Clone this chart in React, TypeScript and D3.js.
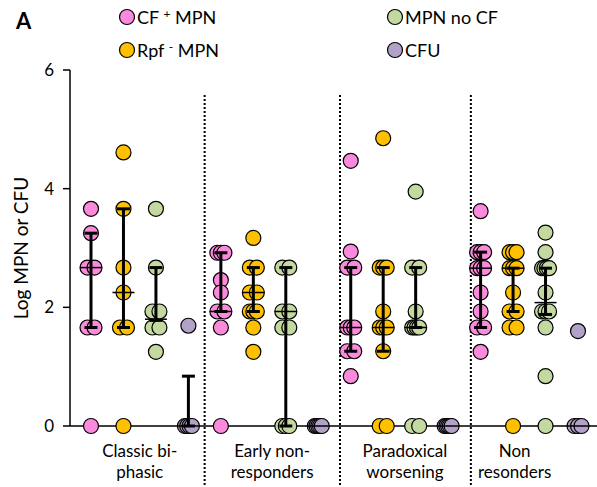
import React from "react"
import * as d3 from "d3"

// groups on the x axis
const groupLines = [
  ["Classic bi-", "phasic"],
  ["Early non-", "responders"],
  ["Paradoxical", "worsening"],
  ["Non", "resonders"],
]

// log values per group
const cfPlus = [
  [3.66, 3.25, 2.67, 2.67, 1.66, 1.66, 0],
  [2.92, 2.92, 2.92, 2.46, 2.25, 1.93, 1.93, 1.66, 0],
  [4.47, 2.94, 2.67, 2.67, 1.66, 1.66, 1.66, 1.26, 1.26, 0.84],
  [3.62, 2.93, 2.93, 2.93, 2.66, 2.66, 2.66, 2.25, 1.93, 1.66, 1.66, 1.25],
]
const rpfMinus = [
  [4.61, 3.66, 2.67, 2.25, 1.66, 1.66, 0],
  [3.17, 2.67, 2.67, 2.25, 2.25, 1.93, 1.93, 1.93, 1.66, 1.25],
  [4.85, 2.67, 2.67, 2.67, 1.93, 1.66, 1.66, 1.66, 1.26, 0, 0],
  [2.93, 2.93, 2.93, 2.66, 2.66, 2.66, 2.25, 1.93, 1.93, 1.66, 1.66, 0],
]
const mpnNoCf = [
  [3.66, 2.67, 1.93, 1.93, 1.66, 1.66, 1.25],
  [2.67, 2.67, 1.93, 1.93, 1.66, 1.66, 0, 0, 0],
  [3.95, 2.67, 2.67, 1.93, 1.66, 1.66, 1.66, 1.66, 0, 0],
  [3.26, 2.93, 2.66, 2.66, 2.66, 2.66, 2.25, 1.93, 1.93, 1.93, 1.66, 0.84, 0],
]
const cfu = [
  [1.69, 0, 0, 0, 0],
  [0, 0, 0, 0, 0],
  [0, 0, 0, 0, 0],
  [1.6, 0, 0, 0],
]

// median and interquartile range per series and group
const cfMedian = [2.67, 1.93, 1.66, 2.66]
const cfQ1 = [1.66, 1.93, 1.26, 1.66]
const cfQ3 = [3.25, 2.92, 2.67, 2.93]
const rpfMedian = [2.25, 2.25, 1.66, 2.66]
const rpfQ1 = [1.66, 1.93, 1.26, 1.93]
const rpfQ3 = [3.66, 2.67, 2.67, 2.66]
const noCfMedian = [1.8, 1.93, 1.66, 2.08]
const noCfQ1 = [1.78, 0, 1.66, 1.88]
const noCfQ3 = [2.67, 2.67, 2.67, 2.66]
const cfuMedian = [0, 0, 0, 0]
const cfuQ1 = [0, 0, 0, 0]
const cfuQ3 = [0.84, 0, 0, 0]

const yTicks = [0, 2, 4, 6]

const series = [
  { name: "CF", values: cfPlus, med: cfMedian, q1: cfQ1, q3: cfQ3, color: "#FB8ADC" },
  { name: "Rpf", values: rpfMinus, med: rpfMedian, q1: rpfQ1, q3: rpfQ3, color: "#FFC000" },
  { name: "NoCF", values: mpnNoCf, med: noCfMedian, q1: noCfQ1, q3: noCfQ3, color: "#C4D9A0" },
  { name: "CFU", values: cfu, med: cfuMedian, q1: cfuQ1, q3: cfuQ3, color: "#B2A2C8" },
]

// layout (in column units)
const dividerPos = [3.5, 7.67, 11.7]
const labelPos = [1.5, 5.58, 9.67, 13.05]

export default function App() {
  const width = 597
  const height = 487
  const font = "Lato, 'Liberation Sans', sans-serif"

  const x = d3.scaleLinear().domain([0, 15]).range([91, 578])
  const y = d3.scaleLinear().domain([0, 6]).range([426, 70])
  const r = 7.5

  const dots: { cx: number; cy: number; color: string; key: string }[] = []
  const bars: { cx: number; med: number; q1: number; q3: number; key: string }[] = []

  series.forEach((s, si) => {
    s.values.forEach((vals, gi) => {
      const col = gi * 4 + si
      const counts = d3.rollup(vals, (v) => v.length, (d) => d)
      const seen = new Map<number, number>()
      vals.forEach((v, i) => {
        const n = counts.get(v) || 1
        const k = seen.get(v) || 0
        seen.set(v, k + 1)
        const off = n > 1 ? -3.5 + (7 * k) / (n - 1) : 0
        dots.push({ cx: x(col) + off, cy: y(v), color: s.color, key: `${si}-${gi}-${i}` })
      })
      bars.push({ cx: x(col), med: s.med[gi], q1: s.q1[gi], q3: s.q3[gi], key: `${si}-${gi}` })
    })
  })

  const legend = [
    { color: series[0].color, x: 127, y: 17, main: "CF ", sup: "+", rest: " MPN" },
    { color: series[1].color, x: 127, y: 50, main: "Rpf ", sup: "-", rest: " MPN" },
    { color: series[2].color, x: 395, y: 17, main: "MPN no CF", sup: "", rest: "" },
    { color: series[3].color, x: 395, y: 50, main: "CFU", sup: "", rest: "" },
  ]

  return (
    <div style={{ position: "absolute", left: 0, top: 0, background: "#fff" }}>
      <svg width={width} height={height} style={{ display: "block", fontFamily: font }}>
        <rect width={width} height={height} fill="#fff" />
        <text x={16} y={29} fontSize={22} fontWeight="bold">A</text>

        {legend.map((l) => (
          <g key={l.main}>
            <circle cx={l.x} cy={l.y} r={r} fill={l.color} stroke="#000" strokeWidth={1.2} />
            <text x={l.x + 10} y={l.y + 6.5} fontSize={18}>
              {l.main}
              {l.sup && <tspan dy={-6} fontSize={12}>{l.sup}</tspan>}
              {l.rest && <tspan dy={6}>{l.rest}</tspan>}
            </text>
          </g>
        ))}

        {/* y axis */}
        <line x1={70} x2={70} y1={y(6)} y2={y(0)} stroke="#000" strokeWidth={1.5} />
        {yTicks.map((t) => (
          <g key={t}>
            <line x1={63} x2={70} y1={y(t)} y2={y(t)} stroke="#000" strokeWidth={1.5} />
            <text x={54} y={y(t) + 6} fontSize={17} textAnchor="end">{t}</text>
          </g>
        ))}
        <text
          transform={`translate(28,248) rotate(-90)`}
          textAnchor="middle"
          fontSize={19}
        >
          Log MPN or CFU
        </text>

        {/* x axis */}
        <line x1={70} x2={width} y1={y(0)} y2={y(0)} stroke="#000" strokeWidth={1.5} />

        {dividerPos.map((d) => (
          <line key={d} x1={x(d)} x2={x(d)} y1={95} y2={height} stroke="#000" strokeWidth={2} strokeDasharray="2,2" />
        ))}

        {dots.map((d) => (
          <circle key={d.key} cx={d.cx} cy={d.cy} r={r} fill={d.color} stroke="#000" strokeWidth={1.2} />
        ))}

        {bars.map((b) => (
          <g key={b.key} stroke="#000">
            {b.q3 > b.q1 && (
              <>
                <line x1={b.cx} x2={b.cx} y1={y(b.q1)} y2={y(b.q3)} strokeWidth={3} />
                <line x1={b.cx - 6.5} x2={b.cx + 6.5} y1={y(b.q1)} y2={y(b.q1)} strokeWidth={3} />
                <line x1={b.cx - 6.5} x2={b.cx + 6.5} y1={y(b.q3)} y2={y(b.q3)} strokeWidth={3} />
              </>
            )}
            <line x1={b.cx - 11} x2={b.cx + 11} y1={y(b.med)} y2={y(b.med)} strokeWidth={1.5} />
          </g>
        ))}

        {groupLines.map((lines, i) => (
          <text key={i} x={x(labelPos[i])} y={457} fontSize={17} textAnchor="middle">
            {lines.map((t, j) => (
              <tspan key={j} x={x(labelPos[i])} dy={j === 0 ? 0 : 21}>{t}</tspan>
            ))}
          </text>
        ))}
      </svg>
    </div>
  )
}
